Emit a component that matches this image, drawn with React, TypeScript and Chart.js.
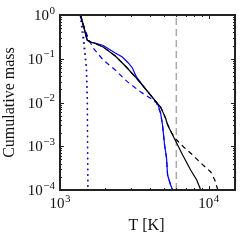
import React, { useEffect, useRef } from "react";
import { Chart, registerables } from "chart.js";

Chart.register(...registerables);

// ---- data (T in K, cumulative mass) ----
const blackSolidT = [1376, 1452, 1522, 1595, 1724, 1952, 2352, 2748, 3213, 3751, 4385, 4742, 5122, 5285, 5538, 5984, 6673, 7550, 8297, 8830];
const blackSolidM = [1.0, 0.504, 0.268, 0.2414, 0.223, 0.186, 0.1156, 0.0683, 0.0383, 0.0204, 0.0108, 0.00789, 0.00442, 0.00306, 0.00223, 0.00132, 0.00063, 0.000286, 0.000169, 0.0001];

const blackDashedT = [1376, 1452, 1522, 1595, 1724, 1952, 2352, 2748, 3213, 3751, 4385, 4742, 4966, 5285, 5626, 5984, 6269, 6775, 7800, 8830, 10316, 10977, 11502];
const blackDashedM = [1.0, 0.504, 0.268, 0.2414, 0.223, 0.186, 0.1156, 0.0683, 0.0383, 0.0204, 0.0108, 0.00789, 0.00575, 0.00323, 0.00201, 0.00147, 0.00125, 0.000961, 0.000631, 0.000414, 0.000258, 0.000169, 0.0001];

const blueSolidT = [1365, 1452, 1522, 1595, 1724, 1952, 2352, 2624, 2880, 3066, 3263, 3751, 4385, 4592, 4742, 4887, 5044, 5200, 5285, 5538, 5714];
const blueSolidM = [1.0, 0.504, 0.268, 0.2414, 0.229, 0.201, 0.135, 0.1096, 0.08, 0.0615, 0.0383, 0.0204, 0.0108, 0.00832, 0.00575, 0.00306, 0.00107, 0.000538, 0.00022, 0.00013, 0.0001];

const blueDashedT = [1365, 1452, 1546, 1670, 1952, 2352, 2830, 3472, 4055, 4450, 4742, 4887, 5044, 5200, 5285, 5538, 5714];
const blueDashedM = [1.0, 0.532, 0.298, 0.176, 0.0936, 0.0553, 0.03, 0.0175, 0.0125, 0.0098, 0.00575, 0.00306, 0.00107, 0.000538, 0.00022, 0.00013, 0.0001];

const blueDottedT = [1365, 1430, 1499, 1522, 1530, 1538];
const blueDottedM = [1.0, 0.268, 0.0616, 0.0114, 0.00082, 0.0001];

const blackDottedT = [1380, 1450, 1510, 1530, 1536, 1542];
const blackDottedM = [1.0, 0.268, 0.0616, 0.0114, 0.00082, 0.0001];

const vlineT = [6050, 6050];
const vlineM = [0.0001, 1];

// ---- axes ----
const xMin = 1000;
const xMax = 15000;
const yMin = 0.0001;
const yMax = 1;
const xMajorTicks = [1000, 10000];
const xMajorExp = ["3", "4"];
const yMajorTicks = [1, 0.1, 0.01, 0.001, 0.0001];
const yMajorExp = ["0", "\u22121", "\u22122", "\u22123", "\u22124"];
const xTitle = "T [K]";
const yTitle = "Cumulative mass";

const zip = (t: number[], m: number[]) => t.map((x, i) => ({ x, y: m[i] }));

const FONT = "'Liberation Serif', 'DejaVu Serif', serif";

const framePlugin = {
  id: "framePlugin",
  afterDatasetsDraw(chart: any) {
    const { ctx, chartArea: a, scales } = chart;
    const xs = scales.x;
    const ys = scales.y;
    ctx.save();
    ctx.strokeStyle = "#222";
    ctx.lineWidth = 1;
    const tick = (x1: number, y1: number, x2: number, y2: number) => {
      ctx.beginPath();
      ctx.moveTo(x1, y1);
      ctx.lineTo(x2, y2);
      ctx.stroke();
    };
    // y ticks
    for (let e = -4; e <= 0; e++) {
      for (let k = 1; k <= 9; k++) {
        const v = k * Math.pow(10, e);
        if (v < yMin * 0.999 || v > yMax * 1.001) continue;
        const py = Math.round(ys.getPixelForValue(v)) + 0.5;
        const len = k === 1 ? 4 : 2;
        tick(a.left, py, a.left + len, py);
        tick(a.right, py, a.right - len, py);
      }
    }
    // x ticks
    for (let e = 3; e <= 4; e++) {
      for (let k = 1; k <= 9; k++) {
        const v = k * Math.pow(10, e);
        if (v < xMin * 0.999 || v > xMax * 1.001) continue;
        const px = Math.round(xs.getPixelForValue(v)) + 0.5;
        const len = k === 1 ? 4 : 2;
        tick(px, a.bottom, px, a.bottom - len);
        tick(px, a.top, px, a.top + len);
      }
    }
    // frame
    ctx.lineWidth = 2;
    ctx.strokeRect(a.left, a.top, a.right - a.left, a.bottom - a.top);

    // labels
    ctx.fillStyle = "#111";
    ctx.textBaseline = "alphabetic";
    ctx.textAlign = "left";
    const mainFont = `15px ${FONT}`;
    const supFont = `11px ${FONT}`;
    const drawPow = (exp: string, left: number, base: number) => {
      ctx.font = mainFont;
      const w1 = ctx.measureText("10").width;
      ctx.fillText("10", left, base);
      ctx.font = supFont;
      ctx.fillText(exp, left + w1 + 0.5, base - 6.5);
    };
    const powWidth = (exp: string) => {
      ctx.font = mainFont;
      const w1 = ctx.measureText("10").width;
      ctx.font = supFont;
      const w2 = ctx.measureText(exp).width;
      return w1 + w2 + 0.5;
    };
    xMajorTicks.forEach((v, i) => {
      const px = xs.getPixelForValue(v);
      const w = powWidth(xMajorExp[i]);
      drawPow(xMajorExp[i], px - w / 2, a.bottom + 18);
    });
    yMajorTicks.forEach((v, i) => {
      const py = ys.getPixelForValue(v);
      const w = powWidth(yMajorExp[i]);
      drawPow(yMajorExp[i], a.left - 5 - w, py + 5);
    });
    // titles
    ctx.font = `16px ${FONT}`;
    ctx.textAlign = "center";
    ctx.fillText(xTitle, (a.left + a.right) / 2 - 1, a.bottom + 40);
    ctx.save();
    ctx.translate(14, (a.top + a.bottom) / 2);
    ctx.rotate(-Math.PI / 2);
    ctx.fillText(yTitle, 0, 0);
    ctx.restore();
    ctx.restore();
  },
};

export default function App() {
  const ref = useRef<HTMLCanvasElement | null>(null);
  useEffect(() => {
    if (!ref.current) return;
    const line = (data: any, color: string, dash: number[], width = 1.2) => ({
      data,
      borderColor: color,
      backgroundColor: color,
      borderWidth: width,
      borderDash: dash,
      showLine: true,
      pointRadius: 0,
      fill: false,
      tension: 0,
    });
    const chart = new Chart(ref.current, {
      type: "scatter",
      data: {
        datasets: [
          line(zip(blackSolidT, blackSolidM), "#000000", []),
          line(zip(blackDashedT, blackDashedM), "#000000", [5, 4]),
          line(zip(blueDottedT, blueDottedM), "#0000ff", [1.5, 4]),
          line(zip(blackDottedT, blackDottedM), "#000000", [1.5, 4]),
          line(zip(blueSolidT, blueSolidM), "#0000ff", []),
          line(zip(blueDashedT, blueDashedM), "#0000ff", [5, 4]),
          line(zip(vlineT, vlineM), "#aaaaaa", [7, 4], 1.5),
        ] as any,
      },
      options: {
        animation: false,
        responsive: false,
        devicePixelRatio: 1,
        layout: { padding: { left: 60, top: 15, right: 15, bottom: 60 } },
        plugins: { legend: { display: false }, tooltip: { enabled: false } },
        scales: {
          x: { type: "logarithmic", min: xMin, max: xMax, display: false },
          y: { type: "logarithmic", min: yMin, max: yMax, display: false },
        },
      },
      plugins: [framePlugin],
    });
    return () => chart.destroy();
  }, []);
  return (
    <div style={{ position: "absolute", left: 0, top: 0, width: 250, height: 250, background: "#fff" }}>
      <canvas ref={ref} width={250} height={250} style={{ width: 250, height: 250 }} />
    </div>
  );
}
